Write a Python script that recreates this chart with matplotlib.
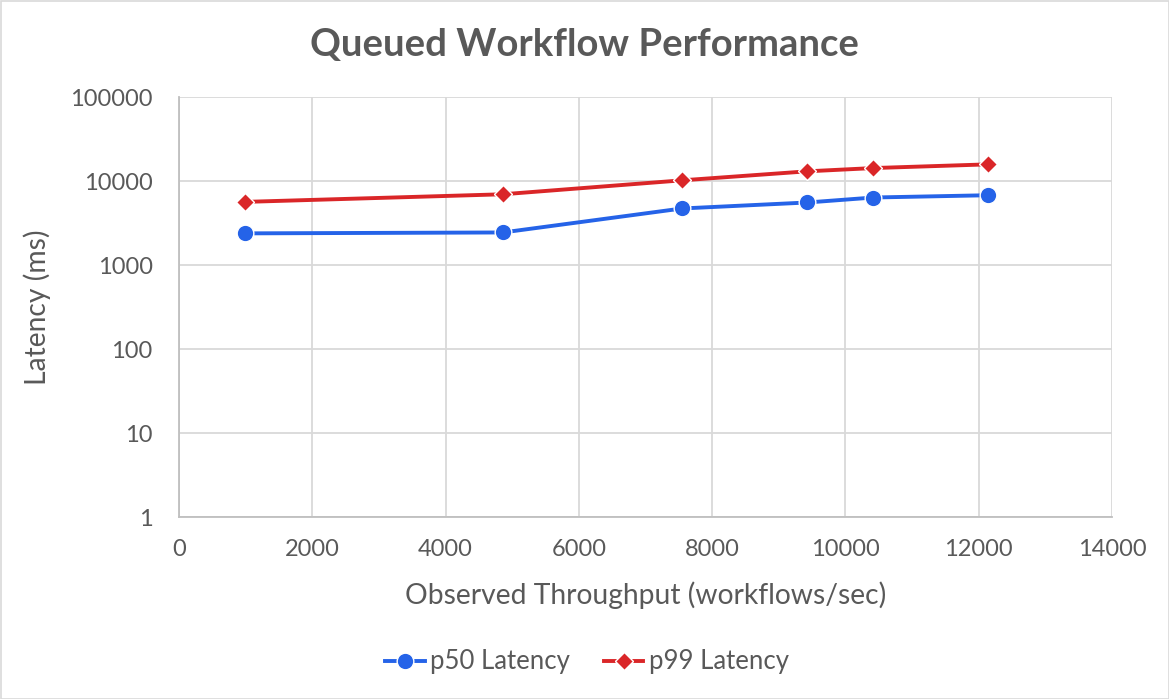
import matplotlib.pyplot as plt
from matplotlib.patches import Rectangle

# values
throughput = [990, 4860, 7550, 9430, 10420, 12140]
p50_latency = [2380, 2440, 4710, 5550, 6360, 6770]
p99_latency = [5640, 6950, 10190, 13040, 14260, 15780]

x_ticks = [0, 2000, 4000, 6000, 8000, 10000, 12000, 14000]
y_ticks = [1, 10, 100, 1000, 10000, 100000]

TEXT = '#595959'
GRID = '#d9d9d9'
AXIS = '#bfbfbf'
BLUE = '#2563e8'
RED = '#da2628'


def main():
    plt.rcParams['font.family'] = ['Lato', 'DejaVu Sans']
    fig = plt.figure(figsize=(11.69, 6.99), dpi=100)
    ax = fig.add_axes([179 / 1169, 1 - 517 / 699, (1112 - 179) / 1169, (517 - 97) / 699])

    ax.plot(throughput, p50_latency, color=BLUE, lw=2.8, marker='o', ms=12,
            mec='white', mew=1, label='p50 Latency', zorder=3)
    ax.plot(throughput, p99_latency, color=RED, lw=2.8, marker='D', ms=9.5,
            mec='white', mew=1, label='p99 Latency', zorder=3)

    ax.set_yscale('log')
    ax.set_xlim(0, 14000)
    ax.set_ylim(1, 100000)
    ax.set_xticks(x_ticks)
    ax.set_xticklabels([str(v) for v in x_ticks])
    ax.set_yticks(y_ticks)
    ax.set_yticklabels([str(v) for v in y_ticks])
    ax.minorticks_off()
    ax.tick_params(length=0, labelsize=17, colors=TEXT)
    ax.tick_params(axis='x', pad=16)
    ax.tick_params(axis='y', pad=19)
    ax.grid(True, color=GRID, lw=1.3)
    ax.set_axisbelow(True)
    for side, s in ax.spines.items():
        if side in ('left', 'bottom'):
            s.set_color(AXIS)
            s.set_linewidth(1.3)
        else:
            s.set_visible(False)

    ax.set_xlabel('Observed Throughput (workflows/sec)', fontsize=20.3, color=TEXT, labelpad=15)
    ax.set_ylabel('Latency (ms)', fontsize=20.3, color=TEXT, labelpad=14)
    fig.text(0.5, 1 - 45 / 699, 'Queued Workflow Performance', ha='center', va='center',
             fontsize=27.5, fontweight='bold', color=TEXT)

    leg = fig.legend(loc='center', bbox_to_anchor=(587 / 1169, 1 - 662 / 699), ncol=2,
                     frameon=False, fontsize=18.5, handlelength=1.55, columnspacing=1.3,
                     handletextpad=0.2, markerscale=1.0)
    for t in leg.get_texts():
        t.set_color(TEXT)

    fig.patches.append(Rectangle((0.5 / 1169, 0.5 / 699), 1 - 1 / 1169, 1 - 1 / 699,
                                 transform=fig.transFigure, fill=False,
                                 edgecolor=GRID, lw=1.2))
    fig.savefig('out.png', dpi=100)


if __name__ == "__main__":
    main()
